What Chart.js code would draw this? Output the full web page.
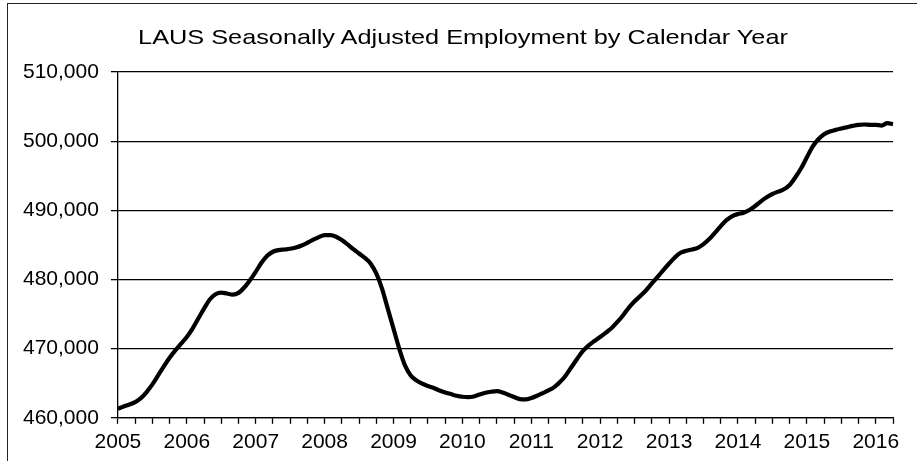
<!DOCTYPE html>
<html>
<head>
<meta charset="utf-8">
<script src="https://cdn.jsdelivr.net/npm/chart.js@4/dist/chart.umd.min.js"></script>
<style>
  html, body { margin: 0; padding: 0; background: #fff; overflow: hidden; }
  #wrap { position: relative; width: 917px; height: 461px; }
  #frame { position: absolute; left: 7px; top: 3px; width: 920px; height: 470px;
           border-left: 1.5px solid #222; border-top: 1.5px solid #222; pointer-events: none; }
  #title { position: absolute; left: 463px; top: 26px; white-space: nowrap;
           font: 21px/21px "Liberation Sans", Arial, sans-serif; color: #000;
           transform: translateX(-50%) scaleX(1.205); }
  canvas { position: absolute; left: 0; top: 0; }
</style>
</head>
<body>
<div id="wrap">
  <canvas id="c" width="917" height="461"></canvas>
  <div id="title">LAUS Seasonally Adjusted Employment by Calendar Year</div>
  <div id="frame"></div>
</div>
<script>
// LAUS seasonally adjusted employment, monthly Jan 2005 - Apr 2016
const START_YEAR = 2005;
const MONTH_COUNT = 136;

const employment = [
  // 2005
  461300, 461640, 461930, 462270, 462850, 463720, 464830, 466130, 467440, 468690, 469760, 470720,
  // 2006
  471690, 472900, 474350, 475790, 477100, 477870, 478110, 477970, 477820, 478060, 478840, 479900,
  // 2007
  481110, 482410, 483430, 484010, 484250, 484340, 484440, 484630, 484920, 485310, 485740, 486130,
  // 2008
  486420, 486420, 486180, 485700, 485070, 484390, 483760, 483140, 482320, 480870, 478690, 475790,
  // 2009
  472900, 470000, 467580, 466130, 465410, 464930, 464590, 464300, 463960, 463670, 463430, 463190,
  // 2010
  463040, 462990, 463090, 463380, 463620, 463770, 463860, 463670, 463330, 463000, 462700, 462660,
  // 2011
  462850, 463190, 463570, 463960, 464440, 465170, 466130, 467340, 468550, 469660, 470480, 471110,
  // 2012
  471690, 472320, 472990, 473860, 474830, 475940, 476860, 477630, 478450, 479420, 480380, 481350,
  // 2013
  482310, 483180, 483860, 484150, 484340, 484580, 485120, 485840, 486760, 487720, 488590, 489170,
  // 2014
  489460, 489660, 490040, 490620, 491300, 491880, 492360, 492700, 493040, 493670, 494780, 496080,
  // 2015
  497670, 499220, 500280, 501010, 501390, 501630, 501830, 502020, 502210, 502360, 502410, 502360,
  // 2016
  502360, 502260, 502600, 502460
];

const yTicks = [460000, 470000, 480000, 490000, 500000, 510000];

// month category labels, e.g. "2005-01"
const months = [];
for (let i = 0; i < MONTH_COUNT; i++) {
  const y = START_YEAR + Math.floor(i / 12);
  const m = (i % 12) + 1;
  months.push(y + '-' + String(m).padStart(2, '0'));
}

const FONT = 'Liberation Sans, Arial, Helvetica, sans-serif';

new Chart(document.getElementById('c').getContext('2d'), {
  type: 'line',
  data: {
    labels: months,
    datasets: [{
      label: 'Employment',
      data: employment,
      borderColor: '#000',
      borderWidth: 4.2,
      pointRadius: 0,
      cubicInterpolationMode: 'monotone',
      fill: false
    }]
  },
  options: {
    responsive: false,
    animation: false,
    layout: { padding: { left: 11, right: 24, top: 72, bottom: 0 } },
    plugins: {
      legend: { display: false },
      tooltip: { enabled: false },
      title: { display: false }
    },
    scales: {
      x: {
        type: 'category',
        offset: false,
        border: { display: true, color: '#000', width: 1.3 },
        grid: {
          drawOnChartArea: false,
          drawTicks: true,
          tickLength: 6,
          tickWidth: 1.3,
          tickColor: (ctx) => (ctx.index % 3 === 0 ? '#000' : 'rgba(0,0,0,0)')
        },
        ticks: {
          autoSkip: false,
          maxRotation: 0,
          minRotation: 0,
          padding: 6,
          color: '#000',
          font: { family: FONT, size: 21 },
          callback: (val, i) => (i % 12 === 0 ? String(START_YEAR + i / 12) : '')
        }
      },
      y: {
        min: yTicks[0],
        max: yTicks[yTicks.length - 1],
        border: { display: true, color: '#000', width: 1.3 },
        grid: { color: '#000', lineWidth: 1.3, tickLength: 7 },
        afterBuildTicks: (axis) => { axis.ticks = yTicks.map(v => ({ value: v })); },
        ticks: {
          padding: 12,
          color: '#000',
          font: { family: FONT, size: 21 },
          callback: (v) => Number(v).toLocaleString('en-US')
        }
      }
    }
  }
});
</script>
</body>
</html>
